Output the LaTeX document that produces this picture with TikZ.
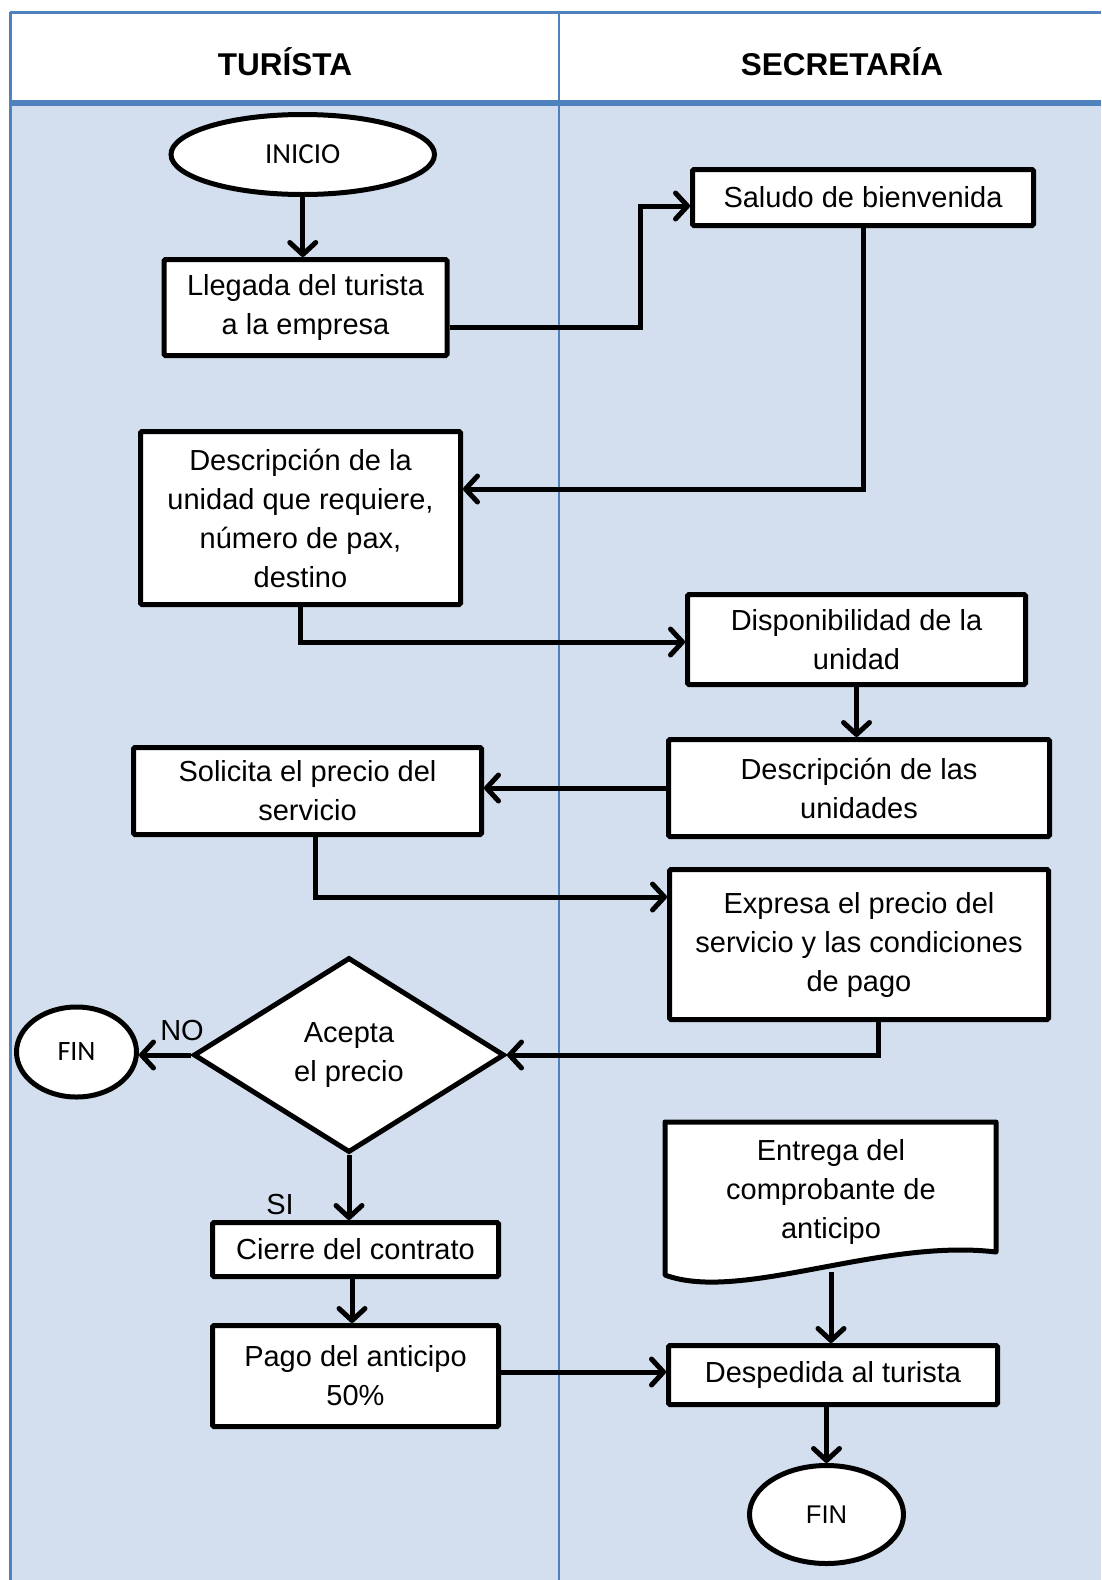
\documentclass[tikz,border=0pt]{standalone}
\usepackage{fontspec}
\setmainfont{Liberation Sans}
\newfontfamily\calib{Carlito}
\usetikzlibrary{shapes.geometric,arrows.meta,calc}
\definecolor{laneblue}{RGB}{79,129,189}
\definecolor{lanefill}{RGB}{211,223,238}
\begin{document}
\begin{tikzpicture}[x=1pt,y=-1pt,
  box/.style={draw=black,fill=white,line width=5pt,rounded corners=1.5pt,inner sep=0pt,align=center,font=\fontsize{29}{39}\selectfont},
  term/.style={draw=black,fill=white,ellipse,line width=5pt,inner sep=0pt},
  decision/.style={draw=black,fill=white,diamond,line width=5pt,inner sep=0pt,align=center,font=\fontsize{29}{39}\selectfont},
  conn/.style={line width=5pt,-{Straight Barb[length=12pt,width=26pt,round]}},
  hdr/.style={font=\bfseries\fontsize{31.5}{38}\selectfont,anchor=base,inner sep=0pt},
  lbl/.style={font=\fontsize{29}{35}\selectfont,anchor=base,inner sep=0pt},
  docshape/.style={draw=black,fill=white,line width=5pt,line join=round},
  lane/.style={draw=laneblue}
]
\useasboundingbox (0,0) rectangle (1101,1580);
% background
\fill[white] (0,0) rectangle (1101,1580);
\fill[white] (10,12) rectangle (1101,103);
\fill[lanefill] (10,103) rectangle (1101,1580);
% lane frame
\draw[lane,line width=3pt] (10,12) -- (1101,12);
\draw[lane,line width=3pt] (10,12) -- (10,1580);
\draw[lane,line width=2pt] (559,12) -- (559,1580);
\draw[lane,line width=6pt] (10,103) -- (1101,103);
% headers
\node[hdr] (h1) at (285,75) {TURÍSTA};
\node[hdr] (h2) at (842,75) {SECRETARÍA};
% nodes
\node[term,minimum width=263.5,minimum height=80,font=\calib\fontsize{29}{34}\selectfont] (ini) at (302.75,154.5) {INICIO};
\node[box,minimum width=283,minimum height=96] (lleg) at (305.5,307.5) {Llegada del turista\\a la empresa};
\node[box,minimum width=341,minimum height=56] (sal) at (863,197.5) {Saludo de bienvenida};
\node[box,minimum width=320,minimum height=173] (desc) at (300.5,518) {Descripción de la\\unidad que requiere,\\número de pax,\\destino};
\node[box,minimum width=338,minimum height=90] (disp) at (856.5,639.5) {Disponibilidad de la\\unidad};
\node[box,minimum width=381,minimum height=97] (descl) at (859,788) {Descripción de las\\unidades};
\node[box,minimum width=348,minimum height=87] (sol) at (307.5,791) {Solicita el precio del\\servicio};
\node[box,minimum width=379,minimum height=150] (expr) at (859,944.5) {Expresa el precio del\\servicio y las condiciones\\de pago};
\node[decision,minimum width=311,minimum height=195] (dia) at (349,1055) {Acepta\\el precio};
\node[term,minimum width=120,minimum height=90,font=\calib\fontsize{28}{34}\selectfont] (fin1) at (76.5,1052) {FIN};
\node[lbl] (no) at (182,1040) {NO};
\node[lbl] (si) at (280,1214) {SI};
\node[box,minimum width=286,minimum height=54] (cierre) at (355.5,1249.5) {Cierre del contrato};
\node[box,minimum width=286,minimum height=101] (pago) at (355.5,1376) {Pago del anticipo\\50\%};
% document shape
\draw[docshape] (665,1275) -- (665,1122) -- (996,1122) -- (996,1252) .. controls (880,1238) and (740,1303) .. (665,1275) -- cycle;
\node[align=center,inner sep=0pt,font=\fontsize{29}{39}\selectfont] (doc) at (831,1192) {Entrega del\\comprobante de\\anticipo};
\coordinate (docb) at (831,1272);
\node[box,minimum width=329,minimum height=59] (desp) at (833,1375) {Despedida al turista};
\node[term,minimum width=154,minimum height=98,font=\fontsize{25.6}{30}\selectfont] (fin2) at (826.5,1514.5) {FIN};
% connectors
\draw[conn] (ini.south) -- (ini.south |- lleg.north);
\draw[conn] ([yshift=-20pt]lleg.east) -- ++(191,0) |- ([yshift=-8.5pt]sal.west);
\draw[conn] (sal.south) |- ([yshift=29pt]desc.east);
\draw[conn] (desc.south) |- ([yshift=-2.5pt]disp.west);
\draw[conn] (disp.south) -- (disp.south |- descl.north);
\draw[conn] (descl.west) -- (descl.west -| sol.east);
\draw[conn] ([xshift=7.5pt]sol.south) |- ([yshift=47.5pt]expr.west);
\draw[conn] ([xshift=19pt]expr.south) |- (dia.east);
\draw[conn] (dia.west) -- (dia.west -| fin1.east);
\draw[conn] (dia.south) -- (dia.south |- cierre.north);
\draw[conn] ([xshift=-3.5pt]cierre.south) -- ([xshift=-3.5pt]pago.north);
\draw[conn] ([yshift=4pt]pago.east) -- ([yshift=4pt]pago.east -| desp.west);
\draw[conn] (docb) -- (docb |- desp.north);
\draw[conn] (fin2.north |- desp.south) -- (fin2.north);
\end{tikzpicture}
\end{document}
